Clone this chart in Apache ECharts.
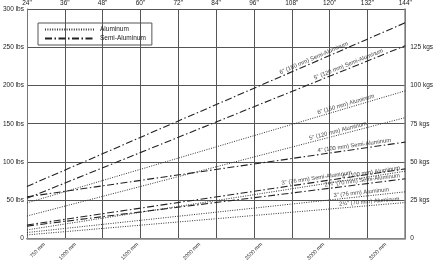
<!DOCTYPE html>
<html><head><meta charset="utf-8">
<script src="https://cdn.jsdelivr.net/npm/echarts@6/dist/echarts.min.js"></script>
<style>html,body{margin:0;padding:0;background:#fff}#c{width:436px;height:263px}</style>
</head><body><div id="c"></div>
<script>
// ---- data ----
const spanInches = [24, 144];
const lineLabels = ['6" (150 mm) Semi-Aluminum','5" (120 mm) Semi-Aluminum','4" (100 mm) Semi-Aluminum','3" (76 mm) Semi-Aluminum','2¾" (70 mm) Semi-Aluminum','6" (150 mm) Aluminum','5" (120 mm) Aluminum','4" (100 mm) Aluminum','3" (76 mm) Aluminum','2¾" (70 mm) Aluminum'];
const lineKinds = ['Semi-Aluminum','Semi-Aluminum','Semi-Aluminum','Semi-Aluminum','Semi-Aluminum','Aluminum','Aluminum','Aluminum','Aluminum','Aluminum'];
const loadAt24in = [68, 52.5, 54.5, 17.7, 16.2, 46.5, 29.4, 11.2, 7.8, 4.7];
const loadAt144in = [282, 252, 126, 91, 78, 193, 158, 88, 61, 47];
const labelAtInches = [115.5, 126.5, 128, 116.1, 130.5, 125.5, 123, 133.3, 130.2, 132.7];
const mmTicks = [750, 1000, 1500, 2000, 2500, 3000, 3500];
const inchTicks = [24, 36, 48, 60, 72, 84, 96, 108, 120, 132, 144];
const lbsTicks = [0, 50, 100, 150, 200, 250, 300];
const kgTicks = [0, 25, 50, 75, 100, 125];

const FONT = '"Liberation Sans Narrow","Liberation Sans",Arial,sans-serif';
const styleFor = {
  'Aluminum': {color:'#333', width:1, type:[1,1.4]},
  'Semi-Aluminum': {color:'#222', width:1.1, type:[7,2.5,1.5,2.5]}
};
const chart = echarts.init(document.getElementById('c'), null, {renderer:'canvas'});

function lineAt(i, x){
  const t = (x - spanInches[0])/(spanInches[1]-spanInches[0]);
  return loadAt24in[i] + t*(loadAt144in[i]-loadAt24in[i]);
}

function build(rot){
  const series = [];
  ['Aluminum','Semi-Aluminum'].forEach(k=>{
    series.push({name:k, type:'line', data:[], symbol:'none', showSymbol:false,
      itemStyle:{color:'#222', opacity:0}, lineStyle:styleFor[k]});
  });
  lineLabels.forEach((lab,i)=>{
    series.push({name:lab, type:'line', symbol:'none', silent:true,
      data:[[spanInches[0], loadAt24in[i]],[spanInches[1], loadAt144in[i]]],
      lineStyle:styleFor[lineKinds[i]], z:3});
    series.push({name:lab+' label', type:'scatter', symbolSize:0, silent:true,
      data:[[labelAtInches[i], lineAt(i, labelAtInches[i])]],
      label:{show:true, formatter:lab, position:'inside', align:'center', verticalAlign:'bottom',
        rotate: rot ? rot[i] : 0, fontSize:5.8, color:'#111', fontFamily:FONT, padding:[0,0,1,0]}, z:4});
  });
  return {
    animation:false,
    backgroundColor:'#fff',
    grid:{left:25, right:26, top:9, bottom:23},
    legend:{data:['Aluminum','Semi-Aluminum'], orient:'vertical', left:38, top:23,
      borderColor:'#555', borderWidth:1, padding:[3,6,3,6], itemGap:2, itemWidth:50, itemHeight:7,
      itemStyle:{opacity:0},
      textStyle:{fontSize:6.5, color:'#222', fontFamily:FONT}},
    xAxis:[
      {type:'value', position:'top', min:24, max:144, interval:12,
        axisLine:{show:true, lineStyle:{color:'#777', width:1}}, axisTick:{show:false},
        axisLabel:{fontSize:6.5, color:'#222', fontFamily:FONT, margin:2, formatter:v=>v+'"'},
        splitLine:{show:true, lineStyle:{color:'#555', width:1}}},
      {type:'value', position:'bottom', min:24*25.4, max:144*25.4,
        axisLine:{show:true, lineStyle:{color:'#888', width:1.5}}, axisTick:{show:false},
        splitLine:{show:false},
        axisLabel:{customValues:mmTicks, rotate:45, fontSize:5.3, color:'#222', fontFamily:FONT, margin:5, formatter:v=>v+' mm'}}
    ],
    yAxis:[
      {type:'value', min:0, max:300, interval:50, position:'left',
        axisLine:{show:true, lineStyle:{color:'#777'}}, axisTick:{show:false},
        axisLabel:{fontSize:6.5, color:'#222', fontFamily:FONT, margin:3, formatter:v=>v===0?'0':v+' lbs'},
        splitLine:{show:true, lineStyle:{color:'#555', width:1}}},
      {type:'value', min:0, max:150, interval:25, position:'right',
        axisLine:{show:true, lineStyle:{color:'#888', width:1.5}}, axisTick:{show:false},
        axisLabel:{fontSize:6.5, color:'#222', fontFamily:FONT, margin:5, formatter:v=>v===150?'':(v===0?'0':v+' kgs')},
        splitLine:{show:false}}
    ],
    series
  };
}
chart.setOption(build(null));
const rot = lineLabels.map((l,i)=>{
  const p0 = chart.convertToPixel({xAxisIndex:0, yAxisIndex:0}, [spanInches[0], loadAt24in[i]]);
  const p1 = chart.convertToPixel({xAxisIndex:0, yAxisIndex:0}, [spanInches[1], loadAt144in[i]]);
  return Math.atan2(p0[1]-p1[1], p1[0]-p0[0])*180/Math.PI;
});
chart.setOption(build(rot));
</script></body></html>
